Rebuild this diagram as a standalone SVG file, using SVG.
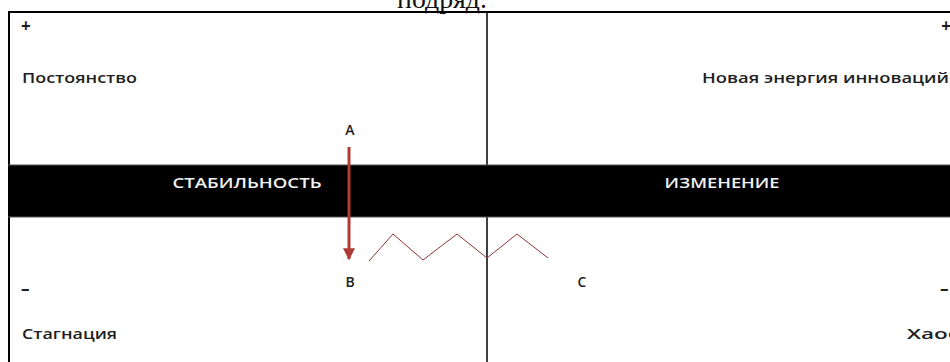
<svg xmlns="http://www.w3.org/2000/svg" width="950" height="362" viewBox="0 0 950 362">
<style>
.lbl{font-family:"Open Sans","Liberation Sans",sans-serif;font-weight:600;font-size:14px;fill:#1e1e1e}
.sym{font-family:"Open Sans","Liberation Sans",sans-serif;font-weight:700;font-size:17px;fill:#1e1e1e}
.band{font-family:"Open Sans","Liberation Sans",sans-serif;font-weight:600;font-size:15px;fill:#f2f2f2}
.ser{font-family:"Liberation Serif","DejaVu Serif",serif;font-size:27px;fill:#111}
.frame{stroke:#000;fill:none}
</style>
<defs>
<marker id="ah" viewBox="0 0 10 10" refX="9" refY="5" markerWidth="4" markerHeight="4" orient="auto" markerUnits="strokeWidth">
<path d="M0,0 L10,5 L0,10 z" fill="#b03a36"/>
</marker>
</defs>
<rect width="950" height="362" fill="#fff"/>
<text class="ser" x="397" y="8" textLength="90" lengthAdjust="spacingAndGlyphs">подряд.</text>
<g id="frame">
<line class="frame" x1="8" y1="12" x2="950" y2="12" stroke-width="2"/>
<line class="frame" x1="9" y1="12" x2="9" y2="362" stroke-width="2"/>
<line class="frame" x1="487" y1="12" x2="487" y2="362" stroke-width="1.5"/>
</g>
<g id="band">
<rect x="8" y="165" width="942" height="52" fill="#000"/>
<line x1="8" y1="165" x2="950" y2="165" stroke="#555" stroke-width="1"/>
<line x1="8" y1="217" x2="950" y2="217" stroke="#555" stroke-width="1"/>
<text class="band" x="247" y="188" text-anchor="middle" textLength="149" lengthAdjust="spacingAndGlyphs">СТАБИЛЬНОСТЬ</text>
<text class="band" x="722" y="188" text-anchor="middle" textLength="115" lengthAdjust="spacingAndGlyphs">ИЗМЕНЕНИЕ</text>
</g>
<g id="top-left">
<text class="sym" x="21" y="32">+</text>
<text class="lbl" x="22" y="83" textLength="115" lengthAdjust="spacingAndGlyphs">Постоянство</text>
</g>
<g id="top-right">
<text class="sym" x="951" y="32" text-anchor="end">+</text>
<text class="lbl" x="702" y="83" textLength="247" lengthAdjust="spacingAndGlyphs">Новая энергия инноваций</text>
</g>
<g id="bottom-left">
<text class="sym" x="21" y="295">–</text>
<text class="lbl" x="22" y="339" textLength="95" lengthAdjust="spacingAndGlyphs">Стагнация</text>
</g>
<g id="bottom-right">
<text class="sym" x="940" y="295">–</text>
<text class="lbl" x="907" y="339" textLength="52" lengthAdjust="spacingAndGlyphs">Хаос</text>
</g>
<g id="point-a"><text class="lbl" x="350" y="135" text-anchor="middle">А</text></g>
<g id="point-b"><text class="lbl" x="350" y="287" text-anchor="middle">В</text></g>
<g id="point-c"><text class="lbl" x="582" y="287" text-anchor="middle">С</text></g>
<g id="connectors">
<line x1="349" y1="147" x2="349" y2="259" stroke="#b03a36" stroke-width="3" marker-end="url(#ah)"/>
<polyline points="369,261 393,234 423,260 457,234 487,258 517,234 548,258" fill="none" stroke="#8b3535" stroke-width="1"/>
</g>
</svg>
